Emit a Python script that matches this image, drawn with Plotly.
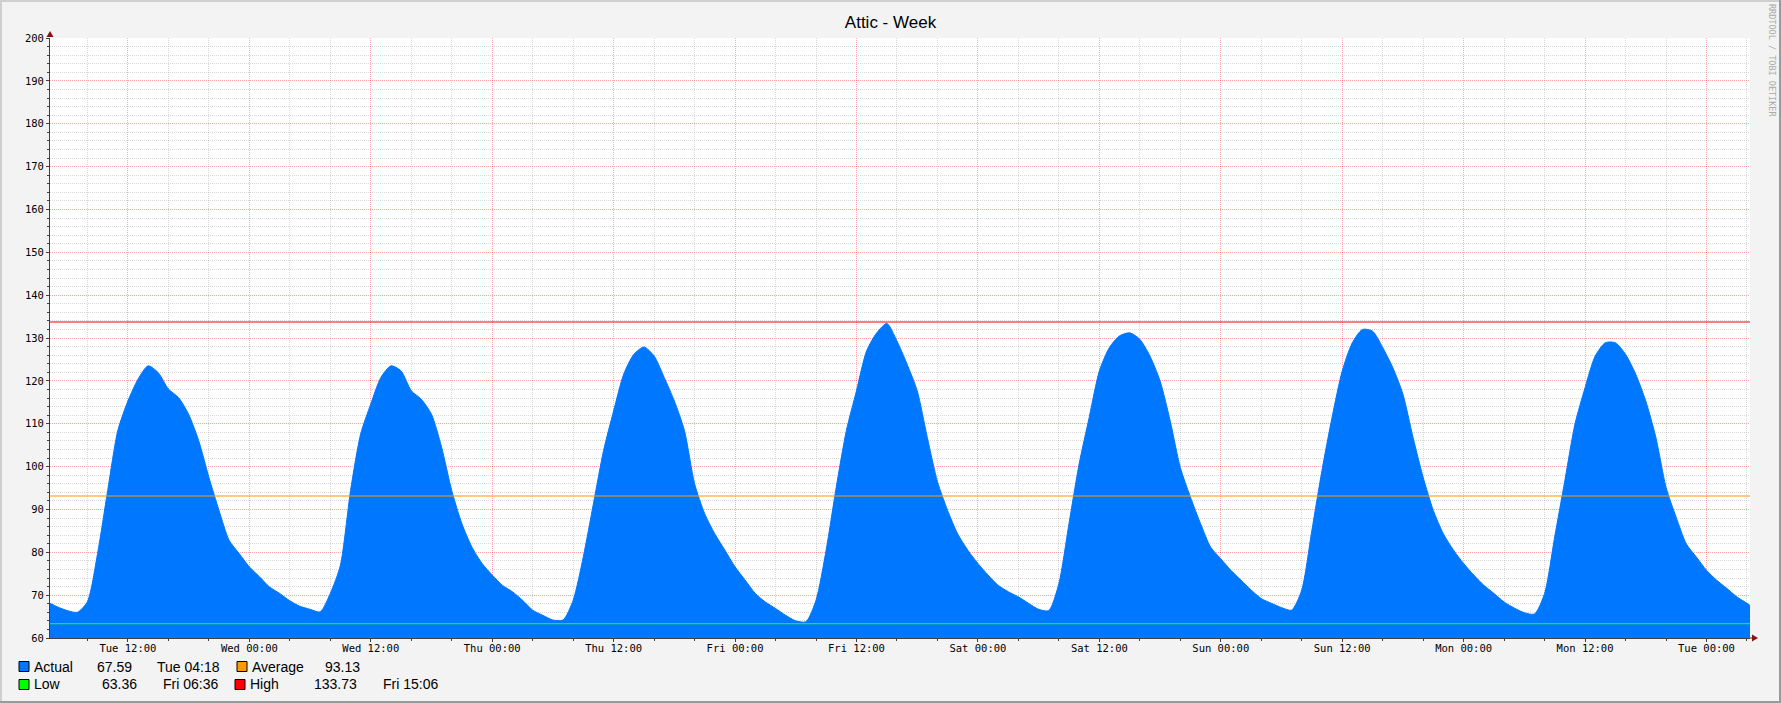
import pandas as pd
import plotly.graph_objects as go

W, H = 1781, 703
# plot box in pixels
L, R, T, B = 50, 1750, 38, 638

start = "2024-01-02 04:18"
end = "2024-01-09 04:18"

# hourly readings, Tue 05:00 .. next Tue 04:00
tue_a = [67.3, 66.4, 66.0, 68.5, 79.7, 94.4, 108.4, 115.3, 120.4, 123.5, 121.9, 118.1,
         116.1, 112.2, 106.0, 97.5, 89.8, 82.8, 79.7]
wed = [76.6, 74.3, 71.9, 70.4, 68.7, 67.4, 66.7, 66.1, 70.4, 77.0, 94.4, 107.6,
       114.6, 120.8, 123.5, 122.3, 117.7, 115.7, 112.2, 104.5, 94.4, 86.7, 81.2, 77.4]
thu = [74.7, 72.3, 70.8, 68.8, 66.5, 65.3, 64.2, 64.2, 68.8, 78.9, 91.3, 103.7,
       113.0, 121.6, 126.2, 127.9, 125.8, 120.8, 115.3, 108.4, 96.0, 89.0, 84.3, 80.5]
fri = [76.6, 73.5, 70.4, 68.4, 66.9, 65.3, 64.0, 63.8, 68.8, 80.5, 95.2, 108.4,
       117.7, 127.0, 131.2, 133.4, 129.3, 123.9, 117.7, 106.8, 96.5, 89.8, 84.3, 80.5]
sat = [77.4, 74.7, 72.3, 70.8, 69.6, 68.1, 66.7, 66.4, 72.7, 86.7, 100.6, 111.5,
       122.3, 127.8, 130.5, 131.2, 129.7, 125.8, 120.0, 110.7, 99.8, 92.9, 86.7, 81.2]
sun = [78.5, 75.8, 73.5, 71.2, 69.2, 68.1, 67.1, 66.5, 71.2, 85.1, 99.1, 111.5,
       122.3, 128.9, 132.0, 131.6, 127.8, 123.1, 116.9, 106.8, 97.5, 89.8, 84.3, 80.5]
mon = [77.4, 74.7, 72.3, 70.4, 68.4, 67.0, 65.9, 65.6, 70.4, 83.6, 96.7, 109.9,
       118.4, 125.8, 128.9, 128.9, 126.2, 121.6, 115.3, 106.8, 95.2, 88.2, 82.0, 78.9]
tue_b = [75.8, 73.5, 71.6, 69.6, 68.1]
first_value = 68.1
last_value = 67.59

# summary figures printed under the graph
actual_now, actual_time = 67.59, "Tue 04:18"
average = 93.13
low, low_time = 63.36, "Fri 06:36"
high, high_time = 133.73, "Fri 15:06"

hours = pd.date_range("2024-01-02 05:00", "2024-01-09 04:00", freq="h")
times = [pd.Timestamp(start)] + list(hours) + [pd.Timestamp(end)]
values = [first_value] + tue_a + wed + thu + fri + sat + sun + mon + tue_b + [last_value]

BLUE = "#0077ff"
ORANGE = "#ff9900"
GREEN = "#00ff00"
RED = "#ff0000"


def px(x):
    return (x - L) / (R - L)


def py(y):
    return (B - y) / (B - T)


fig = go.Figure()
fig.add_trace(go.Scatter(x=times, y=values, mode="lines", fill="tozeroy",
                         fillcolor=BLUE, line=dict(color=BLUE, width=1, shape="spline", smoothing=0.7)))
for val, col in [(average, ORANGE), (low, GREEN), (high, RED)]:
    fig.add_trace(go.Scatter(x=[start, end], y=[val, val], mode="lines",
                             line=dict(color=col, width=1.2)))

tickfont = dict(family="DejaVu Sans Mono", size=10.5, color="#000000")
major = "rgba(255,0,0,0.33)"
minor = "rgba(130,130,130,0.3)"

fig.update_xaxes(type="date", range=[start, end], tickformat="%a %H:%M",
                 dtick=12 * 3600000, tick0="2024-01-02 00:00",
                 showgrid=True, gridcolor=major, griddash="1px,1px", gridwidth=1,
                 ticks="outside", ticklen=3, tickcolor="#404040", tickfont=tickfont,
                 ticklabelstandoff=-3,
                 showline=True, linecolor="#404040", linewidth=1, zeroline=False,
                 minor=dict(dtick=4 * 3600000, tick0="2024-01-02 00:00", showgrid=True,
                            gridcolor=minor, griddash="1px,1px", ticks="outside",
                            ticklen=2, tickcolor="#404040"))
fig.update_yaxes(range=[60, 200], dtick=10, tick0=0,
                 showgrid=True, gridcolor=major, griddash="1px,1px", gridwidth=1,
                 ticks="outside", ticklen=3, tickcolor="#404040", tickfont=tickfont,
                 showline=True, linecolor="#404040", linewidth=1, zeroline=False,
                 minor=dict(dtick=2, showgrid=True, gridcolor=minor, griddash="1px,1px",
                            ticks="outside", ticklen=2, tickcolor="#404040"))

# legend block
legend_font = dict(family="Liberation Sans", size=14, color="#000000")
rows = [
    (666.5, [("Actual", BLUE, 19, f"{actual_now:.2f}", 134, actual_time, 155),
             ("Average", ORANGE, 237, f"{average:.2f}", 362, None, None)]),
    (684.5, [("Low", GREEN, 19, f"{low:.2f}", 139, low_time, 161),
             ("High", RED, 235, f"{high:.2f}", 359, high_time, 381)]),
]
shapes = []
annotations = []
for yc, items in rows:
    for name, col, sx, num, nx, when, wx in items:
        shapes.append(dict(type="rect", xref="paper", yref="paper",
                           x0=px(sx), x1=px(sx + 10), y0=py(yc + 5), y1=py(yc - 5),
                           fillcolor=col, line=dict(color="#000000", width=1)))
        annotations.append(dict(text=name, x=px(sx + 13), y=py(yc), xref="paper", yref="paper",
                                xanchor="left", yanchor="middle", showarrow=False, font=legend_font))
        annotations.append(dict(text=num, x=px(nx), y=py(yc), xref="paper", yref="paper",
                                xanchor="right", yanchor="middle", showarrow=False, font=legend_font))
        if when:
            annotations.append(dict(text=when, x=px(wx), y=py(yc), xref="paper", yref="paper",
                                    xanchor="left", yanchor="middle", showarrow=False, font=legend_font))

# watermark
annotations.append(dict(text="RRDTOOL / TOBI OETIKER", x=px(1772), y=py(60), xref="paper", yref="paper",
                        textangle=90, showarrow=False, xanchor="center", yanchor="middle",
                        font=dict(family="DejaVu Sans Mono", size=8.5, color="#aaaaaa")))

# axis arrow heads
shapes.append(dict(type="path", xref="paper", yref="paper",
                   path=f"M {px(46.5)} {py(37)} L {px(53.5)} {py(37)} L {px(50)} {py(31)} Z",
                   fillcolor="#8b1010", line=dict(width=0)))
shapes.append(dict(type="line", xref="paper", yref="paper", x0=px(R), x1=px(1753),
                   y0=py(B), y1=py(B), line=dict(color="#404040", width=1)))
shapes.append(dict(type="path", xref="paper", yref="paper",
                   path=f"M {px(1752)} {py(634.5)} L {px(1752)} {py(641.5)} L {px(1758)} {py(638)} Z",
                   fillcolor="#8b1010", line=dict(width=0)))

# 3d frame around the image
shapes.append(dict(type="line", xref="paper", yref="paper", x0=px(0), x1=px(W), y0=py(1), y1=py(1),
                   line=dict(color="#cfcfcf", width=2)))
shapes.append(dict(type="line", xref="paper", yref="paper", x0=px(1), x1=px(1), y0=py(0), y1=py(H),
                   line=dict(color="#cfcfcf", width=2)))
shapes.append(dict(type="line", xref="paper", yref="paper", x0=px(0), x1=px(W), y0=py(H - 1), y1=py(H - 1),
                   line=dict(color="#9a9a9a", width=2)))
shapes.append(dict(type="line", xref="paper", yref="paper", x0=px(W - 1), x1=px(W - 1), y0=py(0), y1=py(H),
                   line=dict(color="#9a9a9a", width=2)))

fig.update_layout(
    width=W, height=H, autosize=False,
    margin=dict(l=L, r=W - R, t=T, b=H - B, pad=0),
    paper_bgcolor="#f3f3f3", plot_bgcolor="#ffffff",
    showlegend=False,
    title=dict(text="Attic - Week", x=0.5, xanchor="center", y=1 - 22 / H, yanchor="middle",
               font=dict(family="Liberation Sans", size=17, color="#000000")),
    shapes=shapes, annotations=annotations,
)

fig.write_html("out.html", config={"displayModeBar": False},
               post_script="document.body.style.margin='0';document.body.style.overflow='hidden';")
